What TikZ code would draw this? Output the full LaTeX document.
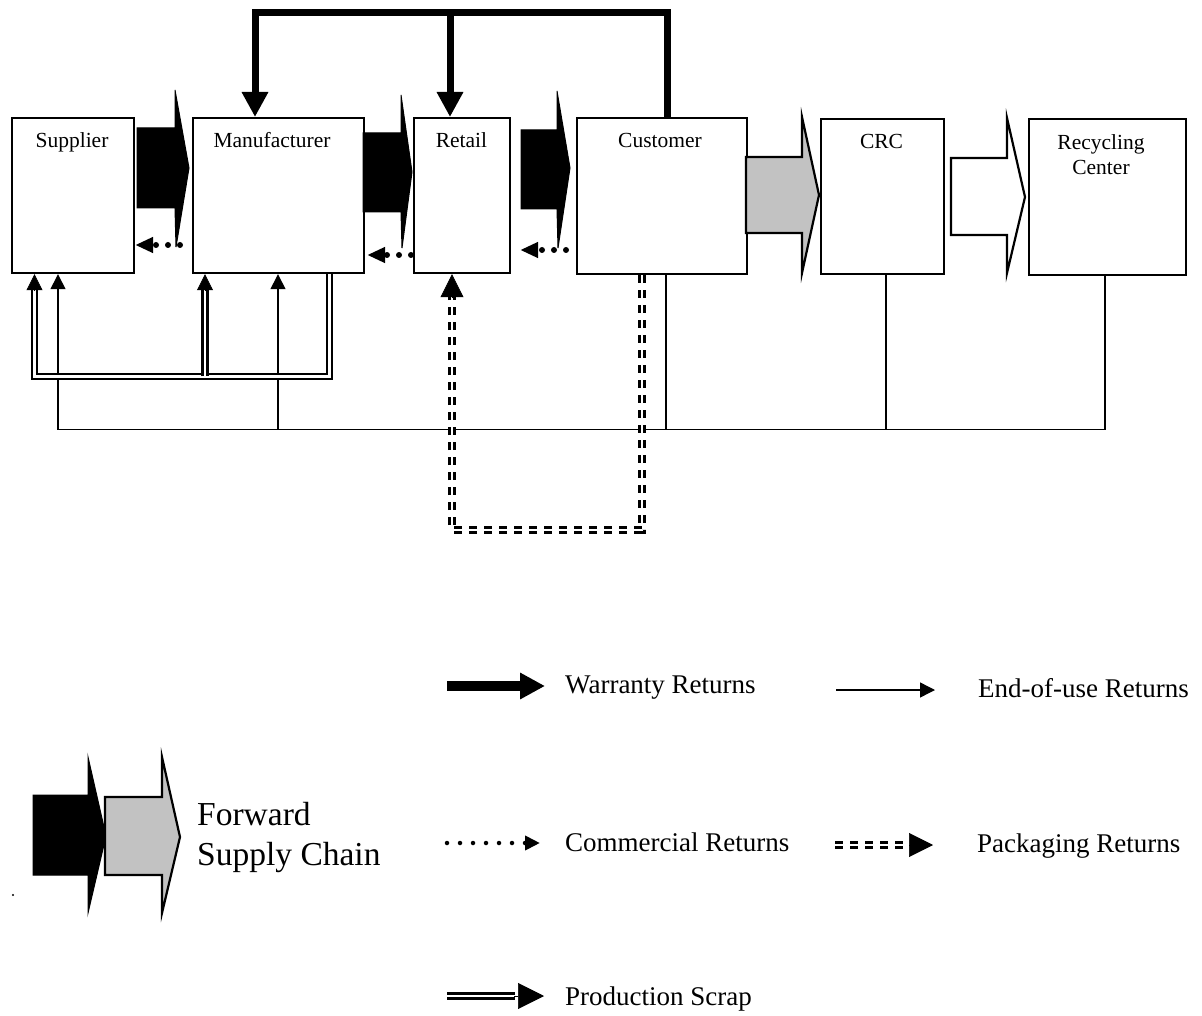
\documentclass[tikz,border=0pt]{standalone}
\usepackage{fontspec}
\setmainfont{Liberation Serif}
\usetikzlibrary{arrows.meta,calc}
\begin{document}
\begin{tikzpicture}[x=1pt,y=-1pt,
  box/.style={draw, line width=2.2pt, fill=white, inner sep=0pt, anchor=north west},
  lbl/.style={font=\fontsize{21.5}{25}\selectfont, anchor=base, inner sep=0pt},
  leg/.style={font=\fontsize{27}{30}\selectfont, anchor=base west, inner sep=0pt},
  fwd/.style={font=\fontsize{33.5}{40}\selectfont, anchor=base west, inner sep=0pt},
  fatblack/.style={fill=black, draw=black, line width=1pt, line join=miter},
  fatgray/.style={fill=black!24, draw=black, line width=2.2pt, line join=miter},
  fatwhite/.style={fill=white, draw=black, line width=2.2pt, line join=miter},
  warr/.style={line width=7pt, line join=miter, -{Triangle[width=25pt,length=25pt]}},
  warrleg/.style={line width=10pt, -{Triangle[width=25pt,length=25pt]}},
  eou/.style={line width=1.4pt},
  eoutip/.style={line width=1.4pt, -{Triangle[width=15pt,length=15pt]}},
  comm/.style={line width=6pt, line cap=round, dash pattern=on 0pt off 12pt, -{Triangle[width=15pt,length=18pt]}},
  commleg/.style={line width=4.5pt, line cap=round, dash pattern=on 0pt off 13pt, -{Triangle[width=14pt,length=15pt]}},
  scrap/.style={double, double distance=2.6pt, line width=2.3pt, line join=miter},
  pack/.style={double, double distance=2.4pt, line width=2.6pt, dash pattern=on 8pt off 7pt},
  tiponly/.style={line width=0.6pt, -{Triangle[width=#1,length=#1]}}
]
\useasboundingbox (0,0) rectangle (1202,1016);

% boxes
\node[box, minimum width=122pt, minimum height=155pt] (sup) at (11,117) {};
\node[box, minimum width=171pt, minimum height=155pt] (mfg) at (192,117) {};
\node[box, minimum width=96pt, minimum height=155pt] (ret) at (413,117) {};
\node[box, minimum width=170pt, minimum height=156pt] (cust) at (576,117) {};
\node[box, minimum width=123pt, minimum height=155pt] (crc) at (820,118) {};
\node[box, minimum width=157pt, minimum height=156pt] (rc) at (1028,118) {};

\node[lbl] (supT) at (72,148) {Supplier};
\node[lbl] (mfgT) at (272,148) {Manufacturer};
\node[lbl] (retT) at (461.5,148) {Retail};
\node[lbl] (custT) at (660,148) {Customer};
\node[lbl] (crcT) at (881.5,149) {CRC};
\node[lbl] (rcT1) at (1101,150) {Recycling};
\node[lbl] (rcT2) at (1101,175) {Center};

% forward supply chain arrows
\draw[fatblack] (137,128) -- (175,128) -- (175,90) -- (189,168) -- (176,247) -- (175,208) -- (137,208) -- cycle;
\draw[fatblack] (363,133) -- (401,133) -- (401,95) -- (412,172) -- (402,248) -- (401,212) -- (363,212) -- cycle;
\draw[fatblack] (521,130) -- (557,130) -- (557,91) -- (570,168) -- (558,248) -- (557,209) -- (521,209) -- cycle;
\draw[fatgray] (746,157) -- (802,157) -- (802,117) -- (819,195) -- (802,273) -- (802,233) -- (746,233) -- cycle;
\draw[fatwhite] (951,158) -- (1007,158) -- (1007,118) -- (1025,197) -- (1007,273) -- (1007,235) -- (951,235) -- cycle;

% warranty returns
\coordinate (cwt) at ($(cust.north west)+(91,0)$);
\coordinate (mwt) at ($(mfg.north west)+(63,0)$);
\coordinate (rwt) at ($(ret.north west)+(37,0)$);
\draw[warr] (cwt) |- ($(mwt)+(0,-104)$) -- (mwt);
\draw[warr] ($(rwt)+(0,-104)$) -- (rwt);

% commercial returns
\draw[comm, shorten <=12pt] ($(mfg.north west)+(0,128)$) -- ($(sup.north east)+(0,128)$);
\draw[comm, shorten <=2pt, shorten >=2pt] ($(ret.north west)+(0,138)$) -- ($(mfg.north east)+(0,138)$);
\draw[comm, shorten <=10pt, shorten >=9pt] ($(cust.north west)+(0,133)$) -- ($(ret.north east)+(0,133)$);

% end-of-use returns
\coordinate (eL) at ($(sup.south west)+(47,0)$);
\coordinate (eM) at ($(mfg.south west)+(86,0)$);
\coordinate (eC) at ($(cust.south west)+(90,0)$);
\coordinate (eCR) at ($(crc.south west)+(66,0)$);
\coordinate (eR) at ($(rc.south west)+(77,0)$);
\draw[eoutip] (eR) |- ($(eL)+(0,155)$) -- (eL);
\draw[eoutip] ($(eM)+(0,155)$) -- (eM);
\draw[eou] (eC) -- ($(eC)+(0,154)$);
\draw[eou] (eCR) -- ($(eCR)+(0,154)$);

% production scrap
\coordinate (sS) at ($(sup.south west)+(23.5,0)$);
\coordinate (mS) at ($(mfg.south west)+(13,0)$);
\coordinate (mD) at ($(mfg.south east)+(-35.5,0)$);
\draw[scrap] (mD) -- ($(mD)+(0,102)$) -| ($(sS)+(0,16)$);
\draw[scrap] ($(mS)+(0,102)$) -- ($(mS)+(0,16)$);
\draw[tiponly=16pt] ($(sS)+(0,17)$) -- (sS);
\draw[tiponly=16pt] ($(mS)+(0,17)$) -- (mS);

% packaging returns
\coordinate (pC) at ($(cust.south west)+(66,0)$);
\coordinate (pR) at ($(ret.south west)+(39,0)$);
\draw[pack] (pC) -- ($(pC)+(0,255)$) -| ($(pR)+(0,23)$);
\draw[tiponly=23pt] ($(pR)+(0,24)$) -- (pR);

% legend: forward supply chain
\draw[fatblack] (33,795) -- (88,795) -- (88,757) -- (106,836) -- (88,913) -- (88,875) -- (33,875) -- cycle;
\draw[fatgray] (105,797) -- (162,797) -- (162,757) -- (180,837) -- (162,913) -- (162,875) -- (105,875) -- cycle;
\node[fwd] (lf1) at (197,825) {Forward};
\node[fwd] (lf2) at (197,865) {Supply Chain};
\fill (13,895) circle (1.2pt);

% legend: other returns
\node[leg] (lw) at (565,693) {Warranty Returns};
\node[leg] (le) at (978,697) {End-of-use Returns};
\node[leg] (lc) at (565,851) {Commercial Returns};
\node[leg] (lp) at (977,852) {Packaging Returns};
\node[leg] (ls) at (565,1005) {Production Scrap};

\coordinate (lwA) at (447,686);
\coordinate (lwB) at (545,686);
\draw[warrleg] (lwA) -- (lwB);
\coordinate (leA) at (836,690);
\coordinate (leB) at (935,690);
\draw[eoutip] (leA) -- (leB);
\coordinate (lcA) at (447,843);
\coordinate (lcB) at (540,843);
\draw[commleg] (lcA) -- (lcB);
\coordinate (lpA) at (835,845);
\coordinate (lpM) at (910,845);
\coordinate (lpB) at (933,845);
\draw[pack] (lpA) -- (lpM);
\draw[tiponly=24pt] ($(lpM)+(-1,0)$) -- (lpB);
\coordinate (lsA) at (447,996);
\coordinate (lsM) at (515,996);
\coordinate (lsB) at (544,996);
\draw[scrap] (lsA) -- (lsM);
\draw[tiponly=26pt] ($(lsM)+(-1,0)$) -- (lsB);
\end{tikzpicture}
\end{document}
